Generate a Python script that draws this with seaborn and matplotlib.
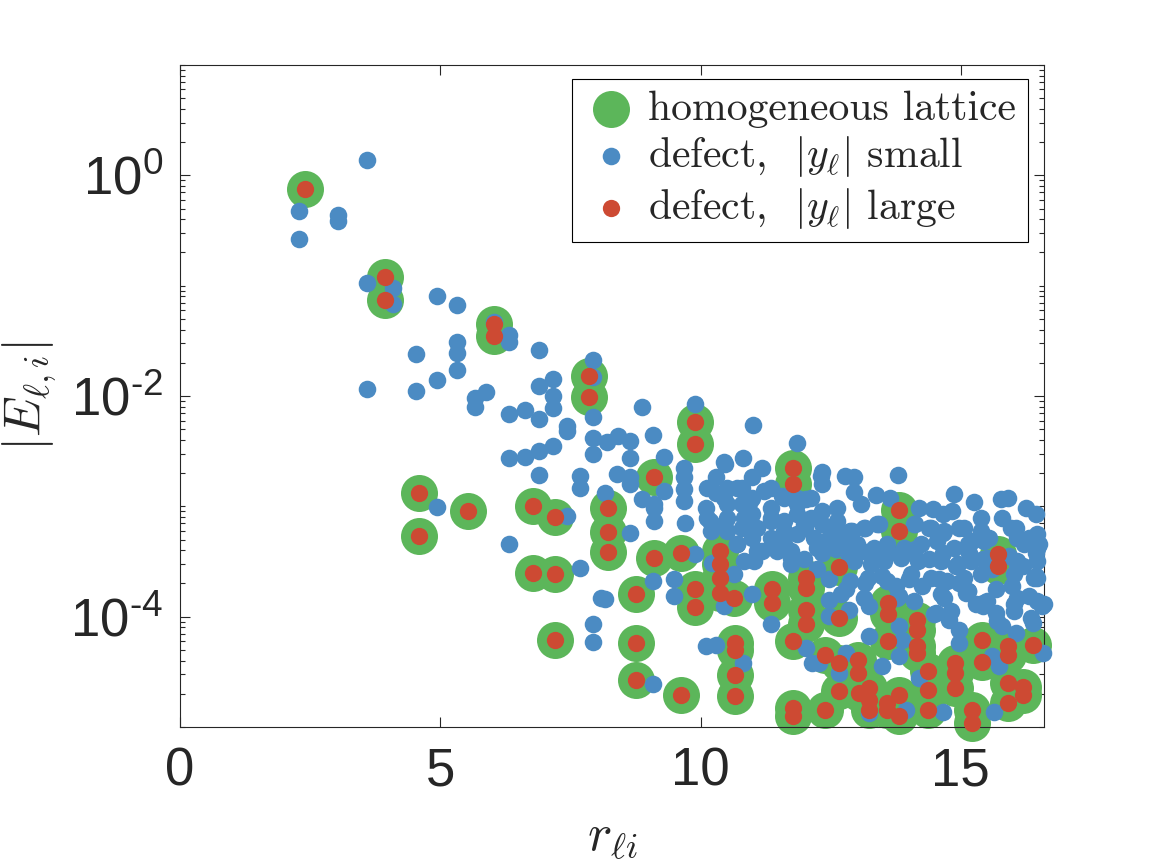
import pandas as pd
import seaborn as sns
import matplotlib.pyplot as plt
from matplotlib import font_manager
from matplotlib.ticker import LogLocator, NullLocator, NullFormatter

# sites where the homogeneous lattice and the large-|y| defect coincide
r_large = [2.41, 3.93, 3.93, 6.04, 6.04, 4.60, 4.60, 5.54, 6.79, 7.21,
           6.79, 7.21, 7.21, 7.85, 7.85, 9.90, 9.90, 11.78, 11.78, 9.10,
           8.22, 8.22, 8.22, 13.81, 13.81, 15.72, 15.72, 9.10, 9.62, 10.38,
           10.38, 10.38, 10.38, 10.64, 8.77, 9.90, 9.90, 11.37, 11.37, 12.02,
           12.02, 12.02, 12.02, 12.66, 12.66, 8.77, 8.77, 9.62, 10.66, 10.66,
           10.66, 10.66, 11.78, 11.78, 11.78, 12.40, 12.40, 12.67, 12.67, 13.03,
           13.03, 13.05, 13.24, 13.24, 13.24, 13.60, 13.60, 13.60, 13.59, 13.59,
           13.81, 13.81, 14.15, 14.15, 14.15, 14.15, 14.38, 14.38, 14.38, 14.89,
           14.89, 14.89, 15.21, 15.21, 15.40, 15.40, 15.90, 15.90, 15.90, 15.90,
           16.19, 16.19, 16.38]
E_large = [7.5e-1, 1.21e-1, 7.4e-2, 4.47e-2, 3.5e-2, 1.32e-3, 5.36e-4, 9.0e-4, 1.01e-3, 8.0e-4,
           2.47e-4, 2.42e-4, 6.1e-5, 1.53e-2, 9.7e-3, 5.86e-3, 3.67e-3, 2.22e-3, 1.61e-3, 1.83e-3,
           9.75e-4, 5.86e-4, 3.88e-4, 9.2e-4, 5.98e-4, 3.67e-4, 2.88e-4, 3.43e-4, 3.8e-4, 3.94e-4,
           2.99e-4, 2.25e-4, 1.64e-4, 1.48e-4, 1.59e-4, 1.77e-4, 1.22e-4, 1.77e-4, 1.33e-4, 2.25e-4,
           1.83e-4, 1.14e-4, 8.5e-5, 2.82e-4, 9.8e-5, 5.78e-5, 2.69e-5, 1.96e-5, 5.78e-5, 5.04e-5,
           2.99e-5, 1.92e-5, 5.98e-5, 1.48e-5, 1.25e-5, 4.53e-5, 1.43e-5, 3.8e-5, 2.1e-5, 4.08e-5,
           3.08e-5, 2.03e-5, 2.25e-5, 1.77e-5, 1.43e-5, 1.33e-4, 1.05e-4, 5.98e-5, 1.64e-5, 1.43e-5,
           1.96e-5, 1.25e-5, 9.4e-5, 7.65e-5, 5.4e-5, 4.69e-5, 3.2e-5, 2.18e-5, 1.43e-5, 3.8e-5,
           3.08e-5, 2.25e-5, 1.43e-5, 1.08e-5, 6.1e-5, 3.85e-5, 5.4e-5, 4.53e-5, 2.5e-5, 1.64e-5,
           2.33e-5, 1.96e-5, 5.5e-5]

# defect, |y| small
r_small = [2.29, 2.29, 3.03, 3.03, 3.60, 3.60, 4.10, 4.10, 4.94, 5.33,
           6.03, 6.33, 6.33, 5.33, 4.54, 6.90, 5.33, 5.33, 4.94, 3.60,
           4.54, 5.67, 5.67, 5.88, 6.33, 6.62, 6.90, 7.17, 7.17, 7.17,
           6.90, 7.44, 7.44, 7.94, 7.94, 7.94, 7.94, 7.94, 6.33, 6.62,
           6.90, 7.17, 6.90, 7.69, 7.69, 4.94, 7.44, 6.33, 7.69, 7.94,
           7.94, 8.08,
           8.88, 9.89, 11.01, 11.85, 8.21, 8.41, 8.64, 9.08, 8.64, 9.29,
           8.40, 8.64, 8.17, 8.88, 9.10, 9.10, 9.29, 9.68, 9.68, 9.68,
           9.68, 8.64, 9.71, 10.10, 10.19, 10.29, 10.29, 10.48, 10.51, 10.51,
           10.51, 10.51, 10.82, 10.80, 10.80, 10.80, 10.99, 10.99, 10.99, 10.99,
           11.19, 11.35, 11.35, 11.35, 11.35, 11.57, 11.60, 11.86, 11.86, 11.86,
           12.02, 12.12, 12.18, 12.31,
           12.33, 12.33, 12.78, 12.95, 12.94, 13.09, 12.63, 12.63, 12.33, 12.33,
           13.37, 13.79, 13.65, 14.20, 14.46, 14.65, 14.87, 15.26, 15.38, 15.77,
           15.90, 16.25, 16.44, 14.84, 14.97, 13.43, 13.17, 12.92, 12.69, 12.47,
           14.13, 14.39, 14.65, 15.80, 16.06, 16.31, 16.51, 15.22, 15.54,
           8.17, 9.08, 9.49, 9.49, 9.90, 10.10, 10.29, 10.82, 9.09, 10.99,
           11.35, 12.02, 12.15, 10.45, 10.64, 10.83, 11.03, 10.22, 11.19, 11.47,
           11.73, 11.99, 12.24, 11.73,
           12.34, 12.60, 12.85, 13.11, 13.37, 13.62, 13.88, 14.13, 14.39, 14.65,
           14.90, 15.16, 15.42, 15.61, 15.93, 16.19, 16.44, 16.44,
           12.47, 12.79, 13.17, 13.49, 13.75, 14.01, 14.26, 14.58, 14.97, 15.10,
           15.42, 15.67, 15.99, 16.31, 16.57,
           12.47, 12.47, 12.85, 13.24, 13.81, 13.81, 13.88, 13.81, 13.24, 14.52,
           14.78, 14.97, 14.97, 15.42, 15.67, 15.80, 16.06, 16.38, 16.58, 15.61,
           15.74, 12.79, 12.66, 13.49, 14.20, 13.94, 14.65, 15.64, 13.24, 12.27,
           16.47, 16.47, 16.47, 16.09, 16.09, 16.60, 16.35, 16.03, 16.03, 15.70,
           15.30, 14.81, 14.49, 14.68, 15.13,
           10.45, 8.65, 9.10,
           12.63, 12.88, 13.14, 13.40, 14.10, 14.42, 14.68, 15.06, 15.38, 15.96, 16.47,
           12.76, 13.01, 13.33, 13.59, 13.91, 14.23, 14.55, 14.87, 15.13, 15.45, 16.22, 16.47,
           12.95, 13.27, 13.53, 13.85, 14.17, 14.62, 14.94, 15.19, 15.51, 16.09,
           12.88, 13.21, 13.59, 14.04, 14.42, 14.74, 15.06, 15.38, 16.03, 16.41,
           12.69, 13.14, 13.78, 14.10, 14.62, 15.13, 15.51, 16.09, 16.47,
           10.20, 10.70, 11.60, 12.00,
           10.13, 10.45, 10.71, 10.96, 11.22, 11.60, 11.86, 12.12,
           10.13, 10.45, 10.83, 11.09, 11.35, 11.60, 11.99, 12.24,
           10.71, 11.09, 11.48, 11.73, 12.24]
E_small = [4.8e-1, 2.63e-1, 4.37e-1, 3.88e-1, 1.37, 1.05e-1, 9.55e-2, 6.89e-2, 8.0e-2, 6.75e-2,
           4.68e-2, 3.55e-2, 3.06e-2, 3.09e-2, 2.42e-2, 2.6e-2, 2.48e-2, 1.73e-2, 1.4e-2, 1.15e-2,
           1.11e-2, 9.55e-3, 8.0e-3, 1.09e-2, 6.89e-3, 7.54e-3, 6.21e-3, 1.43e-2, 1.0e-2, 7.81e-3,
           1.22e-2, 5.4e-3, 4.79e-3, 2.1e-2, 1.48e-2, 6.52e-3, 4.17e-3, 2.99e-3, 2.76e-3, 2.78e-3,
           3.2e-3, 3.5e-3, 1.92e-3, 1.87e-3, 1.48e-3, 9.9e-4, 8.2e-4, 4.53e-4, 2.74e-4, 8.5e-5,
           5.86e-5, 1.48e-4,
           7.9e-3, 8.5e-3, 5.5e-3, 3.72e-3, 3.8e-3, 4.37e-3, 3.94e-3, 4.47e-3, 2.74e-3, 2.78e-3,
           1.96e-3, 1.59e-3, 1.33e-3, 1.16e-3, 9.75e-4, 7.38e-4, 1.38e-3, 2.25e-3, 1.83e-3, 1.43e-3,
           1.12e-3, 5.78e-4, 7.13e-4, 9.75e-4, 7.38e-4, 1.83e-3, 1.33e-3, 2.42e-3, 1.48e-3, 1.05e-3,
           7.9e-4, 5.98e-4, 2.74e-3, 1.48e-3, 1.05e-3, 6.41e-4, 1.83e-3, 1.2e-3, 8.49e-4, 5.2e-4,
           2.25e-3, 1.48e-3, 9.75e-4, 7.38e-4, 5.2e-4, 1.24e-3, 7.38e-4, 1.2e-3, 8.49e-4, 5.58e-4,
           1.16e-3, 7.9e-4, 5.2e-4, 1.89e-3,
           2.03e-3, 1.61e-3, 1.89e-3, 1.83e-3, 1.36e-3, 1.05e-3, 9.75e-4, 7.38e-4, 9.1e-4, 6.89e-4,
           1.27e-3, 1.93e-3, 1.2e-3, 9.75e-4, 9.4e-4, 8.49e-4, 1.29e-3, 1.1e-3, 7.9e-4, 1.16e-3,
           1.2e-3, 9.75e-4, 8.49e-4, 9.1e-4, 6.41e-4, 6.89e-4, 6.41e-4, 5.98e-4, 5.2e-4, 5.2e-4,
           6.89e-4, 6.41e-4, 5.78e-4, 7.9e-4, 6.41e-4, 5.2e-4, 4.53e-4, 4.85e-4, 5.2e-4,
           1.45e-4, 2.1e-4, 2.18e-4, 1.53e-4, 3.67e-4, 5.4e-5, 5.58e-5, 3.8e-5, 2.45e-5, 1.59e-4,
           8.5e-5, 5.21e-5, 3.8e-5, 1.24e-4, 2.42e-4, 3.2e-4, 3.2e-4, 3.08e-4, 3.94e-4, 3.94e-4,
           3.94e-4, 3.31e-4, 2.69e-4, 2.99e-4,
           3.8e-4, 4.08e-4, 3.55e-4, 3.94e-4, 3.31e-4, 3.8e-4, 3.55e-4, 4.08e-4, 3.31e-4, 3.8e-4,
           2.88e-4, 3.8e-4, 3.31e-4, 2.69e-4, 3.55e-4, 2.88e-4, 3.8e-4, 2.33e-4,
           2.18e-4, 1.77e-4, 2.03e-4, 2.33e-4, 1.89e-4, 2.18e-4, 1.89e-4, 2.18e-4, 2.03e-4, 1.64e-4,
           1.33e-4, 1.77e-4, 1.89e-4, 1.53e-4, 1.24e-4,
           1.43e-4, 1.01e-4, 1.16e-4, 1.24e-4, 1.53e-4, 8.2e-5, 6.21e-5, 4.38e-5, 6.65e-5, 1.08e-4,
           9.4e-5, 7.65e-5, 5.78e-5, 1.24e-4, 1.08e-4, 8.2e-5, 7.13e-5, 8.8e-5, 4.69e-5, 4.38e-5,
           3.55e-5, 4.69e-5, 3.08e-5, 3.55e-5, 2.78e-5, 1.43e-5, 1.38e-5, 1.38e-5, 1.33e-5, 3.8e-5,
           4.23e-4, 3.2e-4, 2.25e-4, 5.2e-4, 2.99e-4, 1.29e-4, 9.8e-5, 1.29e-4, 1.12e-4, 9.1e-5,
           1.29e-4, 1.12e-4, 1.05e-4, 1.48e-4, 1.71e-4,
           2.51e-3, 1.83e-3, 1.05e-3,
           6.41e-4, 5.98e-4, 6.41e-4, 6.89e-4, 6.89e-4, 6.41e-4, 5.98e-4, 6.41e-4, 5.98e-4, 6.41e-4, 5.58e-4,
           4.85e-4, 4.53e-4, 4.22e-4, 4.53e-4, 4.22e-4, 4.53e-4, 4.85e-4, 4.22e-4, 4.53e-4, 4.85e-4, 4.53e-4, 4.22e-4,
           3.2e-4, 2.99e-4, 3.2e-4, 3.43e-4, 3.2e-4, 3.2e-4, 2.99e-4, 3.2e-4, 3.43e-4, 3.2e-4,
           2.1e-4, 2.25e-4, 2.1e-4, 2.42e-4, 2.25e-4, 2.1e-4, 2.25e-4, 2.42e-4, 2.42e-4, 2.25e-4,
           1.59e-4, 1.48e-4, 1.48e-4, 1.38e-4, 1.59e-4, 1.71e-4, 1.38e-4, 1.48e-4, 1.38e-4,
           6.0e-4, 4.6e-4, 4.6e-4, 6.4e-4,
           1.48e-3, 1.2e-3, 1.48e-3, 1.12e-3, 1.38e-3, 1.2e-3, 1.05e-3, 1.2e-3,
           7.9e-4, 6.89e-4, 7.9e-4, 6.41e-4, 7.9e-4, 5.98e-4, 6.89e-4, 7.9e-4,
           4.53e-4, 3.94e-4, 4.53e-4, 3.43e-4, 4.22e-4]

xticks = [0, 5, 10, 15]
yticks = [1e-4, 1e-2, 1e0]
ytick_labels = [r'$10^{\text{-}4}$', r'$10^{\text{-}2}$', r'$10^{0}$']

df_large = pd.DataFrame({"r": r_large, "E": E_large})
df_small = pd.DataFrame({"r": r_small, "E": E_small})

names = {f.name for f in font_manager.fontManager.ttflist}
tick_font = 'Liberation Sans Narrow' if 'Liberation Sans Narrow' in names else 'Liberation Sans'

sns.set_style("ticks")
plt.rcParams['font.family'] = [tick_font, 'DejaVu Sans']
plt.rcParams['mathtext.fontset'] = 'custom'
plt.rcParams['mathtext.rm'] = tick_font
plt.rcParams['mathtext.it'] = tick_font + ':italic'
plt.rcParams['mathtext.bf'] = tick_font + ':bold'

green = '#5cb65a'
blue = '#4b8bc3'
red = '#cd4a33'
dark = '#262626'

fig, ax = plt.subplots(figsize=(11.54, 8.68), dpi=100)
fig.subplots_adjust(left=0.156, right=0.9047, bottom=0.1624, top=0.9251)

sns.scatterplot(data=df_large, x="r", y="E", s=710, color=green, linewidth=0,
                label="homogeneous lattice", ax=ax, clip_on=False, zorder=2)
sns.scatterplot(data=df_small, x="r", y="E", s=160, color=blue, linewidth=0,
                label=r"defect,  $|y_\ell|$ small", ax=ax, clip_on=False, zorder=3)
sns.scatterplot(data=df_large, x="r", y="E", s=155, color=red, linewidth=0,
                label=r"defect,  $|y_\ell|$ large", ax=ax, clip_on=False, zorder=4)

ax.set_yscale('log')
ax.set_xlim(0, 16.6)
ax.set_ylim(1e-5, 1e1)
ax.set_xticks(xticks)
ax.set_xticklabels([str(t) for t in xticks])
ax.xaxis.set_minor_locator(NullLocator())
ax.set_yticks(yticks)
ax.set_yticklabels(ytick_labels)
ax.yaxis.set_minor_locator(LogLocator(base=10, subs=(1, 2, 3, 4, 5, 6, 7, 8, 9), numticks=100))
ax.yaxis.set_minor_formatter(NullFormatter())

ax.tick_params(which='both', direction='in', top=True, right=True, color=dark,
               labelcolor=dark, width=0.8)
ax.tick_params(which='major', length=7, labelsize=38)
ax.tick_params(which='minor', length=3.5)
ax.tick_params(axis='x', pad=14)
ax.tick_params(axis='y', pad=12)
for sp in ax.spines.values():
    sp.set_visible(True)
    sp.set_color(dark)
    sp.set_linewidth(0.8)

ax.set_xlabel(r'$r_{\ell i}$', fontsize=37, math_fontfamily='cm', labelpad=12)
ax.set_ylabel(r'$|E_{\ell,i}|$', fontsize=37, math_fontfamily='cm', labelpad=8)

leg = ax.legend(loc='upper right', bbox_to_anchor=(0.981, 0.979), borderaxespad=0,
                frameon=True, fancybox=False, framealpha=1, edgecolor='black',
                prop={'family': 'cmr10', 'size': 30}, borderpad=0.28,
                handlelength=1.35, handletextpad=0.2, labelspacing=0.15,
                scatterpoints=1)
leg.get_frame().set_linewidth(0.8)
for t in leg.get_texts():
    t.set_math_fontfamily('cm')

fig.savefig('out.png', dpi=100)
